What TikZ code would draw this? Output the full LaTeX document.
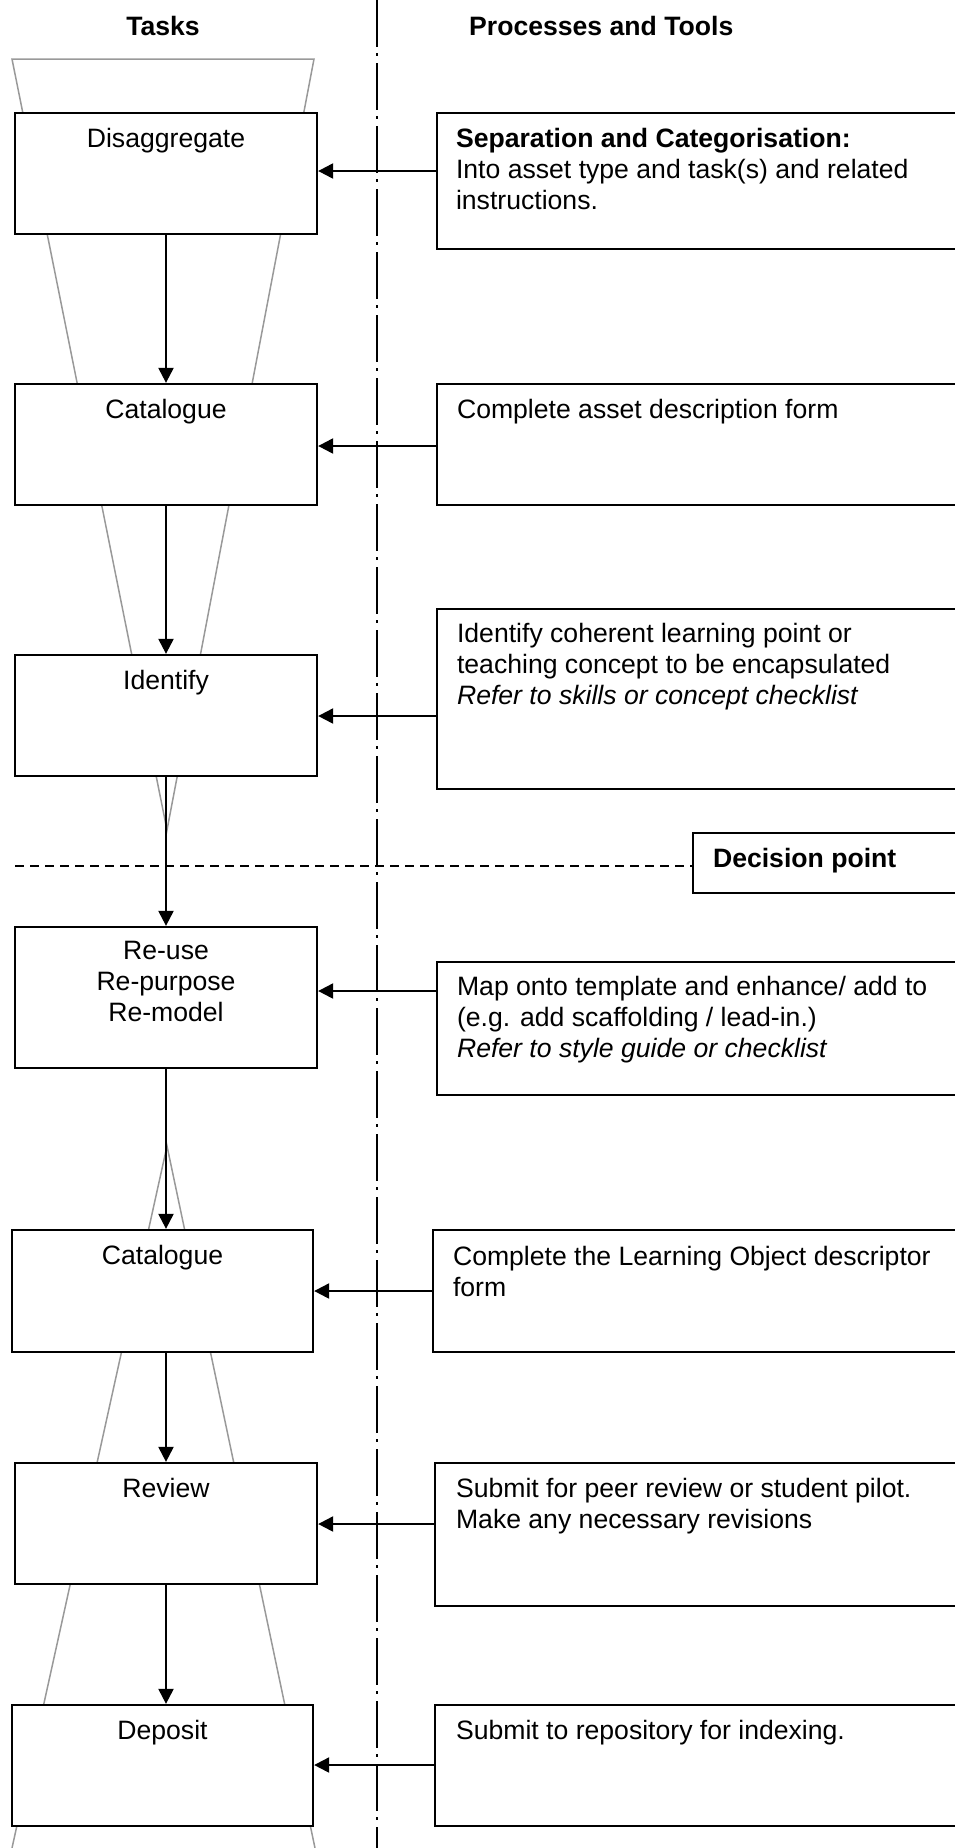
\documentclass[tikz,border=0pt]{standalone}
\usepackage{fontspec}
\setmainfont{Liberation Sans}
\usetikzlibrary{arrows.meta,fit,calc}
\begin{document}
\begin{tikzpicture}[x=1pt,y=-1pt,
  font=\fontsize{26.6}{31}\selectfont,
  box/.style={draw=black, line width=2.3pt, fill=white, inner sep=0pt},
  funnel/.style={draw=black!40, line width=1.5pt, line join=miter},
  flow/.style={draw=black, line width=2.2pt, -{Triangle[length=15pt,width=15pt]}},
  divider/.style={draw=black, line width=2pt, dash pattern=on 47pt off 6pt on 3pt off 7pt},
  decisionline/.style={draw=black, line width=1.5pt, dash pattern=on 9pt off 6pt},
  txt/.style={inner sep=0pt, align=left, anchor=base west},
  lbl/.style={inner sep=0pt, anchor=base, align=center},
  hdr/.style={inner sep=0pt, font=\fontsize{26.6}{31}\selectfont\bfseries}
  ]
\useasboundingbox (0,0) rectangle (955,1848);
\clip (0,0) rectangle (955,1848);

% funnels
\coordinate (f1a) at (12,59);
\coordinate (f1b) at (314,59);
\coordinate (f1c) at (167,830);
\draw[funnel] (f1a) -- (f1b) -- (f1c) -- cycle;
\coordinate (f2a) at (12,1848);
\coordinate (f2b) at (167,1146);
\coordinate (f2c) at (315,1848);
\draw[funnel] (f2a) -- (f2b) -- (f2c);

% divider
\coordinate (dtop) at (377,0);
\coordinate (dbot) at (377,1848);
\draw[divider] (dtop) -- (dbot);

% headers
\node[hdr, anchor=base] (h1) at (163,35) {Tasks};
\node[hdr, anchor=base west] (h2) at (469,35) {Processes and Tools};

% decision line and box
\node[box, fit={(693,833)(980,893)}] (dp) {};
\node[txt, font=\fontsize{26.6}{31}\selectfont\bfseries] (dpl) at ($(dp.north west)+(21,36)$) {Decision point};
\coordinate (dl) at (15,866);
\draw[decisionline] (dl) -- (dl -| dp.west);

% task boxes
\node[box, fit={(15,113)(317,234)}] (t1) {};
\node[box, fit={(15,384)(317,505)}] (t2) {};
\node[box, fit={(15,655)(317,776)}] (t3) {};
\node[box, fit={(15,927)(317,1068)}] (t4) {};
\node[box, fit={(12,1230)(313,1352)}] (t5) {};
\node[box, fit={(15,1463)(317,1584)}] (t6) {};
\node[box, fit={(12,1705)(313,1826)}] (t7) {};

\node[lbl] (t1l) at ($(t1.north)+(0,36)$) {Disaggregate};
\node[lbl] (t2l) at ($(t2.north)+(0,36)$) {Catalogue};
\node[lbl] (t3l) at ($(t3.north)+(0,36)$) {Identify};
\node[lbl] (t4l) at ($(t4.north)+(0,96)$) {Re-use\\Re-purpose\\Re-model};
\node[lbl] (t5l) at ($(t5.north)+(0,36)$) {Catalogue};
\node[lbl] (t6l) at ($(t6.north)+(0,36)$) {Review};
\node[lbl] (t7l) at ($(t7.north)+(0,36)$) {Deposit};

% process boxes
\node[box, fit={(437,113)(980,249)}] (p1) {};
\node[box, fit={(437,384)(980,505)}] (p2) {};
\node[box, fit={(437,609)(980,789)}] (p3) {};
\node[box, fit={(437,962)(980,1095)}] (p4) {};
\node[box, fit={(433,1230)(980,1352)}] (p5) {};
\node[box, fit={(435,1463)(980,1606)}] (p6) {};
\node[box, fit={(435,1705)(980,1826)}] (p7) {};

\node[txt] (p1l) at ($(p1.north west)+(20,98)$) {\textbf{Separation and Categorisation:}\\Into asset type and task(s) and related\\instructions.};
\node[txt] (p2l) at ($(p2.north west)+(21,36)$) {Complete asset description form};
\node[txt] (p3l) at ($(p3.north west)+(21,97)$) {Identify coherent learning point or\\teaching concept to be encapsulated\\\textit{Refer to skills or concept checklist}};
\node[txt] (p4l) at ($(p4.north west)+(21,97)$) {Map onto template and enhance/ add to\\(e.g. add scaffolding / lead-in.)\\\textit{Refer to style guide or checklist}};
\node[txt] (p5l) at ($(p5.north west)+(21,68)$) {Complete the Learning Object descriptor\\form};
\node[txt] (p6l) at ($(p6.north west)+(22,67)$) {Submit for peer review or student pilot.\\Make any necessary revisions};
\node[txt] (p7l) at ($(p7.north west)+(22,36)$) {Submit to repository for indexing.};

% vertical flow arrows
\draw[flow] (t1.south) -- (t2.north);
\draw[flow] (t2.south) -- (t3.north);
\draw[flow] (t3.south) -- (t4.north);
\draw[flow] (t4.south) -- (t4.south |- t5.north);
\draw[flow] (t6.north |- t5.south) -- (t6.north);
\draw[flow] (t6.south) -- (t6.south |- t7.north);

% horizontal arrows
\coordinate (a1) at (0,171);
\coordinate (a2) at (0,446);
\coordinate (a3) at (0,716);
\coordinate (a4) at (0,991);
\coordinate (a5) at (0,1291);
\coordinate (a6) at (0,1524);
\coordinate (a7) at (0,1765);
\draw[flow] (p1.west |- a1) -- (t1.east |- a1);
\draw[flow] (p2.west |- a2) -- (t2.east |- a2);
\draw[flow] (p3.west |- a3) -- (t3.east |- a3);
\draw[flow] (p4.west |- a4) -- (t4.east |- a4);
\draw[flow] (p5.west |- a5) -- (t5.east |- a5);
\draw[flow] (p6.west |- a6) -- (t6.east |- a6);
\draw[flow] (p7.west |- a7) -- (t7.east |- a7);
\end{tikzpicture}
\end{document}
